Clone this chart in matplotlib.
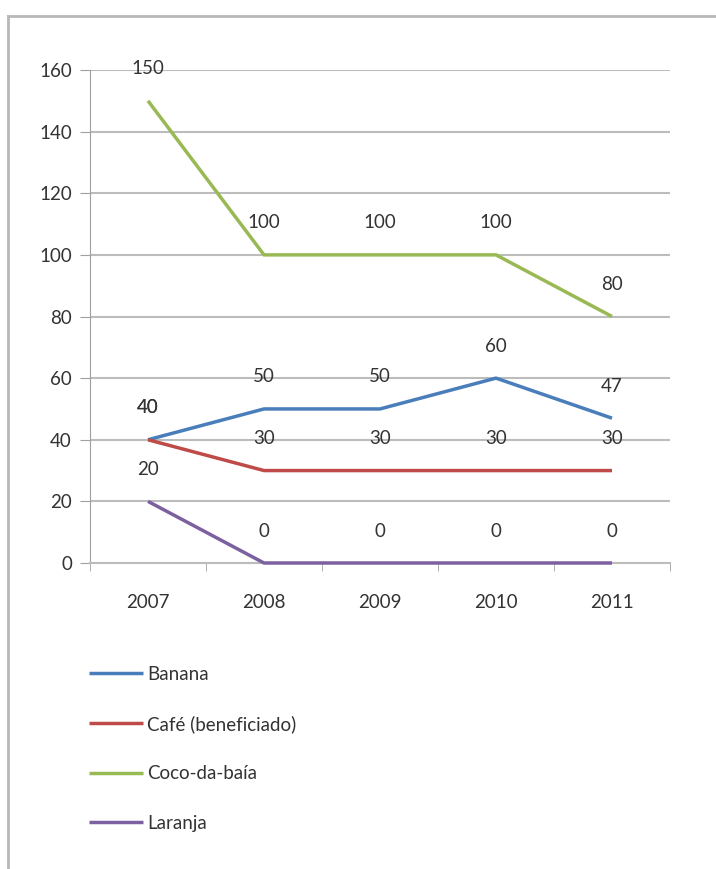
import matplotlib
matplotlib.use("Agg")
import matplotlib.pyplot as plt
from matplotlib.lines import Line2D

plt.rcParams['font.family'] = ['Lato', 'DejaVu Sans']

years = ['2007', '2008', '2009', '2010', '2011']
banana = [40, 50, 50, 60, 47]
cafe = [40, 30, 30, 30, 30]
coco = [150, 100, 100, 100, 80]
laranja = [20, 0, 0, 0, 0]

series = [
    ('Banana', banana, '#4A7EBB'),
    ('Café (beneficiado)', cafe, '#BE4B48'),
    ('Coco-da-baía', coco, '#98B954'),
    ('Laranja', laranja, '#7D60A0'),
]

W, H = 716, 869
FS = 13.5
fig = plt.figure(figsize=(W / 100, H / 100), dpi=100)
ax = fig.add_axes([90 / W, 1 - 563 / H, 580 / W, 493 / H])

x = list(range(len(years)))
for name, vals, color in series:
    ax.plot(x, vals, color=color, lw=2.5, label=name, solid_capstyle='butt',
            clip_on=False, zorder=3)
    for xi, v in zip(x, vals):
        ax.annotate(str(v), (xi, v), xytext=(0, 23), textcoords='offset points',
                    ha='center', va='center', fontsize=FS, color='#333333')

ax.set_xlim(-0.5, len(years) - 0.5)
ax.set_ylim(0, 160)
ax.set_yticks(range(0, 161, 20))
ax.set_xticks(x)
ax.set_xticklabels(years)
ax.set_xticks([i - 0.5 for i in range(len(years) + 1)], minor=True)
ax.tick_params(axis='x', which='major', length=0, pad=22, labelsize=FS, labelcolor='#333333')
ax.tick_params(axis='x', which='minor', length=6, color='#a0a0a0', direction='out')
ax.tick_params(axis='y', length=7, color='#a0a0a0', pad=6, labelsize=FS, labelcolor='#333333')
ax.grid(axis='y', color='#bcbcbc', lw=1.5)
ax.set_axisbelow(True)
for s in ['top', 'right']:
    ax.spines[s].set_visible(False)
ax.spines['left'].set_color('#a0a0a0')
ax.spines['bottom'].set_color('#bcbcbc')
ax.spines['bottom'].set_linewidth(1.5)

handles, labels = ax.get_legend_handles_labels()
fig.legend(handles, labels, loc='upper left', bbox_to_anchor=(72 / W, 1 - 649 / H),
           frameon=False, fontsize=FS, handlelength=2.9, handletextpad=0.2,
           labelspacing=1.72, labelcolor='#333333')

# outer frame (top and left edge visible in the crop)
fig.add_artist(Line2D([8 / W, 8 / W], [0, 1 - 16 / H], color='#b8b8b8', lw=2))
fig.add_artist(Line2D([8 / W, 1], [1 - 16 / H, 1 - 16 / H], color='#b8b8b8', lw=2))

fig.savefig('out.png', dpi=100)
